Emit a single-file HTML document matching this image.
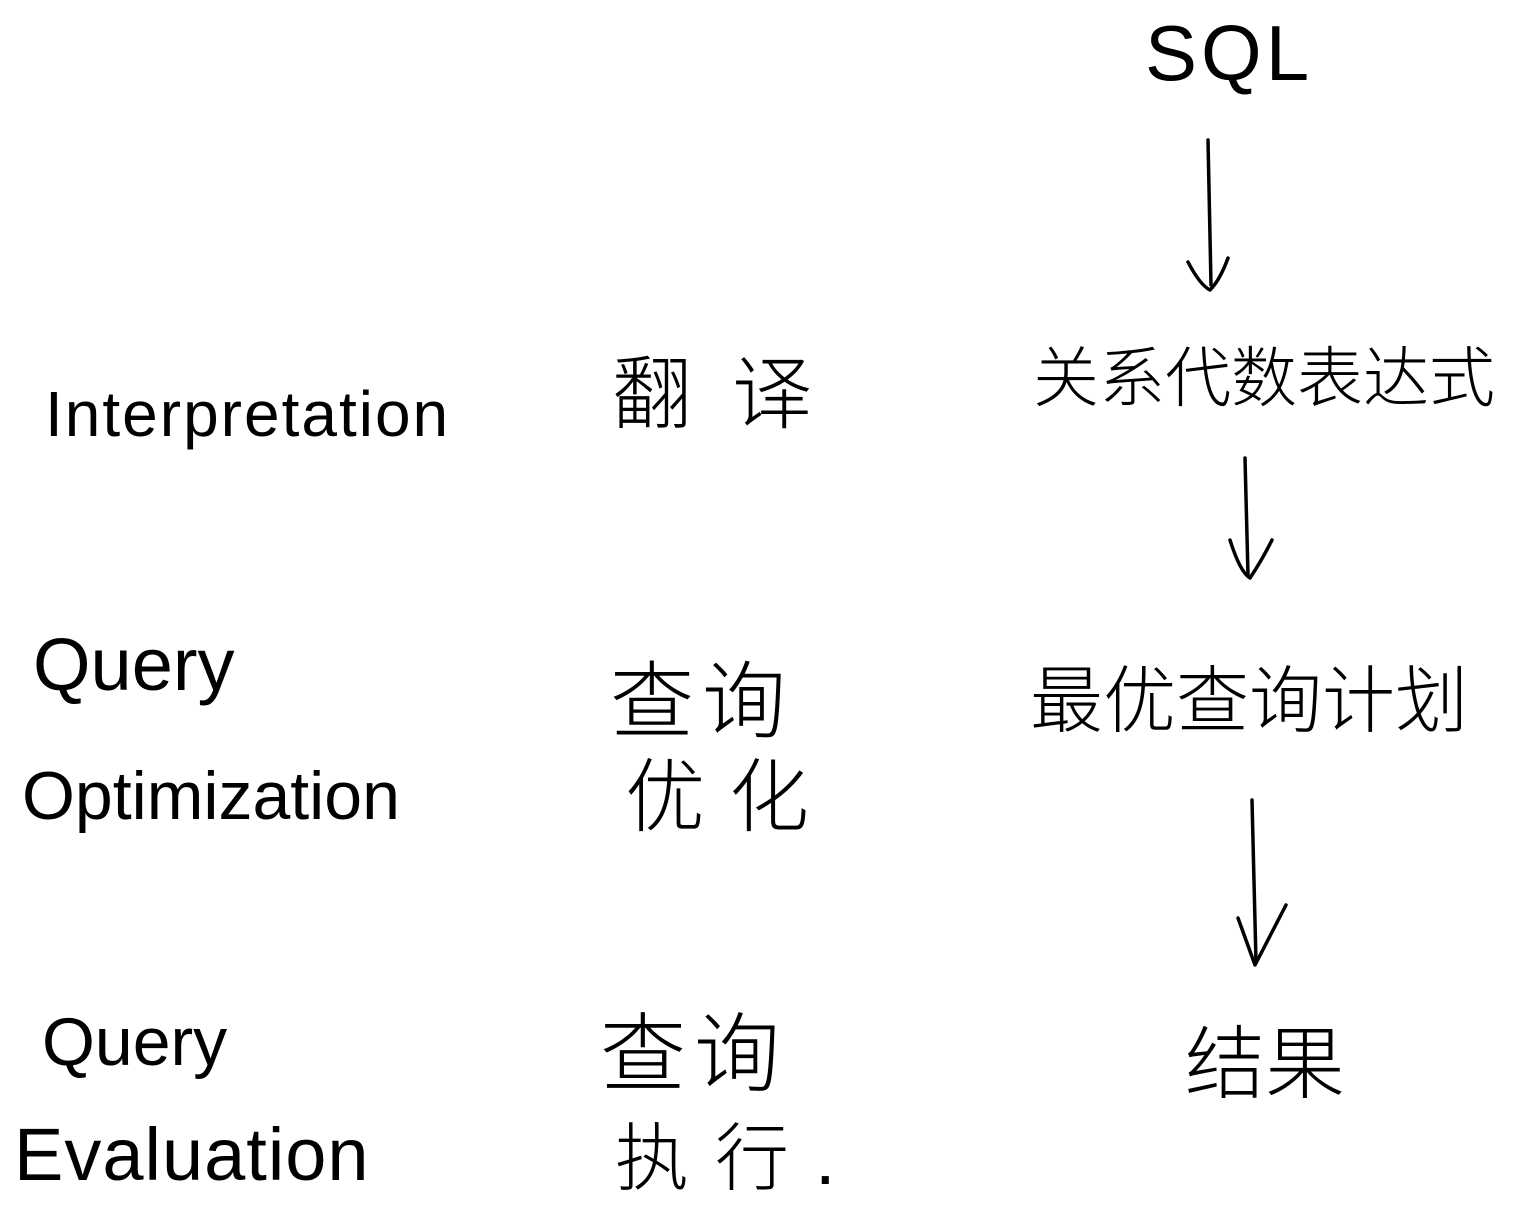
<!DOCTYPE html>
<html><head><meta charset="utf-8"><style>
html,body{margin:0;padding:0;background:#fff;}
body{width:1515px;height:1220px;position:relative;overflow:hidden;font-family:"Liberation Sans","Noto Sans CJK SC",sans-serif;color:#000;}
.t{position:absolute;white-space:nowrap;line-height:1;font-weight:300;}
svg{position:absolute;left:0;top:0;}
</style></head><body>
<svg width="1515" height="1220" fill="none" stroke="#000" stroke-width="3.5" stroke-linecap="round" stroke-linejoin="round">
<path d="M1208 140 L1211 285"/><path d="M1188 262 Q1200 285 1210 290 Q1220 280 1228 258"/>
<path d="M1245 458 L1248 575"/><path d="M1230 540 Q1240 572 1250 578 Q1262 560 1272 540"/>
<path d="M1252 800 L1256 962"/><path d="M1238 918 L1255 965 L1286 905"/>
</svg>
<div class="t" style="left:1145px;top:14px;font-size:78px;letter-spacing:4px;">SQL</div>
<div class="t" style="left:1033px;top:345px;font-size:66px;">关系代数表达式</div>
<div class="t" style="left:1030px;top:665px;font-size:73px;">最优查询计划</div>
<div class="t" style="left:1185px;top:1025px;font-size:80px;">结果</div>

<div class="t" style="left:45px;top:382px;font-size:64px;letter-spacing:2px;">Interpretation</div>
<div class="t" style="left:612px;top:355px;font-size:80px;letter-spacing:40px;">翻译</div>

<div class="t" style="left:33px;top:628px;font-size:74px;letter-spacing:0px;">Query</div>
<div class="t" style="left:22px;top:762px;font-size:68px;">Optimization</div>
<div class="t" style="left:610px;top:660px;font-size:84px;letter-spacing:8px;">查询</div>
<div class="t" style="left:625px;top:758px;font-size:80px;letter-spacing:24px;">优化</div>

<div class="t" style="left:42px;top:1008px;font-size:68px;letter-spacing:0px;">Query</div>
<div class="t" style="left:14px;top:1118px;font-size:74px;letter-spacing:1px;">Evaluation</div>
<div class="t" style="left:600px;top:1012px;font-size:86px;letter-spacing:8px;">查询</div>
<div class="t" style="left:615px;top:1122px;font-size:74px;letter-spacing:26px;">执行.</div>
</body></html>
